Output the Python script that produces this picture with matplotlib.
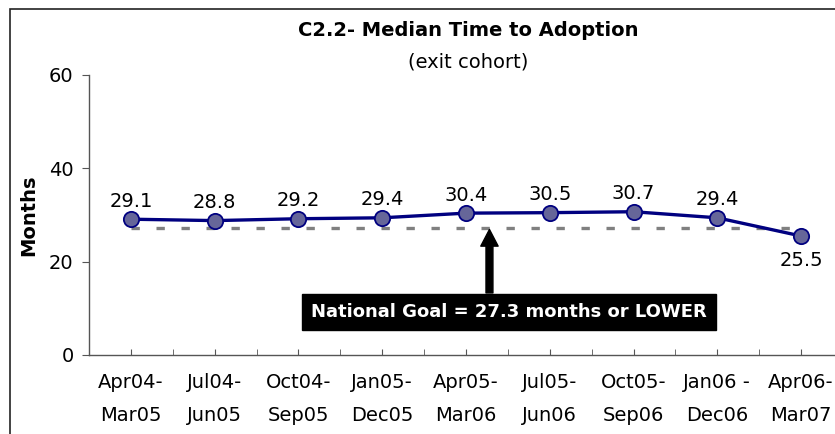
import matplotlib.pyplot as plt
from matplotlib.patches import Rectangle
from matplotlib.ticker import FixedLocator

plt.rcParams['font.family'] = ['DejaVu Sans']

# data
periods = ['Apr04-\nMar05', 'Jul04-\nJun05', 'Oct04-\nSep05', 'Jan05-\nDec05',
           'Apr05-\nMar06', 'Jul05-\nJun06', 'Oct05-\nSep06', 'Jan06 -\nDec06',
           'Apr06-\nMar07']
median_months = [29.1, 28.8, 29.2, 29.4, 30.4, 30.5, 30.7, 29.4, 25.5]
national_goal = 27.3
goal_text = 'National Goal = 27.3 months or LOWER'

fig = plt.figure(figsize=(8.35, 4.34), dpi=100)
ax = fig.add_axes([89 / 835, 1 - 355 / 434, 754 / 835, 280 / 434])

x = list(range(len(periods)))

# goal line
ax.plot(x, [national_goal] * len(x), color='#808080', lw=2.4,
        dashes=(2.5, 5.0), zorder=2)

# main series
ax.plot(x, median_months, color='#000080', lw=2.4, marker='o', ms=11,
        mfc='#666699', mec='#000080', mew=1.3, zorder=3)

for i, v in enumerate(median_months):
    if i == len(median_months) - 1:
        ax.annotate(f'{v:.1f}', (i, v), xytext=(0, -11), textcoords='offset points',
                    ha='center', va='top', fontsize=14)
    else:
        ax.annotate(f'{v:.1f}', (i, v), xytext=(0, 9), textcoords='offset points',
                    ha='center', va='baseline', fontsize=14)

# arrow + goal box
ax.annotate('', xy=(4.28, national_goal - 0.4), xytext=(4.28, 13.3),
            arrowprops=dict(width=5, headwidth=12.5, headlength=12, color='black', shrink=0),
            zorder=4)
ax.text(4.51, 9.2, goal_text, ha='center', va='center', color='white',
        fontsize=13, fontweight='bold', zorder=5,
        bbox=dict(boxstyle='square,pad=0.5', facecolor='black', edgecolor='black'))

ax.set_xlim(-0.5, len(periods) - 0.5)
ax.set_ylim(0, 60)
ax.set_yticks([0, 20, 40, 60])
ax.set_xticks(x)
ax.set_xticklabels(periods, fontsize=14, linespacing=1.9)
ax.xaxis.set_minor_locator(FixedLocator([i + 0.5 for i in range(-1, len(periods))]))
ax.tick_params(axis='x', which='both', direction='in', length=4, color='#555555', pad=13)
ax.tick_params(axis='y', direction='out', length=5, color='#555555', labelsize=14, pad=6)
ax.set_ylabel('Months', fontsize=14, fontweight='bold', labelpad=8)

for s in ['top', 'right']:
    ax.spines[s].set_visible(False)
for s in ['left', 'bottom']:
    ax.spines[s].set_color('#555555')
    ax.spines[s].set_linewidth(1.0)

fig.text(468 / 835, 1 - 30 / 434, 'C2.2- Median Time to Adoption', ha='center',
         va='center', fontsize=14, fontweight='bold')
fig.text(468 / 835, 1 - 62 / 434, '(exit cohort)', ha='center', va='center', fontsize=14)

# outer chart border
fig.patches.append(Rectangle((10 / 835, -0.1), 1.2, 1.1 - 9 / 434, transform=fig.transFigure,
                             fill=False, edgecolor='#222222', lw=1.2))

fig.savefig('out.png', dpi=100)
